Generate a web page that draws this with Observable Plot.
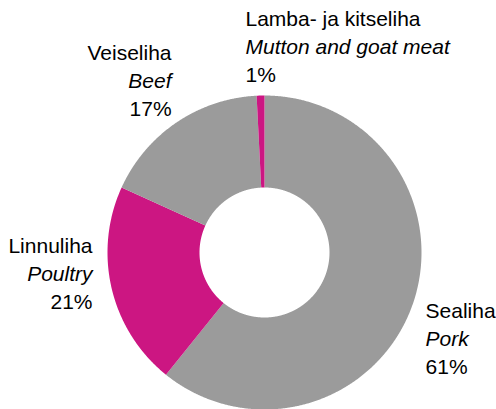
<!DOCTYPE html>
<html><head><meta charset="utf-8">
<script src="https://cdn.jsdelivr.net/npm/d3@7"></script>
<script src="https://cdn.jsdelivr.net/npm/@observablehq/plot@0.6"></script>
<style>html,body{margin:0;padding:0;background:#fff}</style>
</head><body><div id="chart"></div>
<script>
// ---- data ----
const categoriesEt = ["Sealiha", "Linnuliha", "Veiseliha", "Lamba- ja kitseliha"];
const categoriesEn = ["Pork", "Poultry", "Beef", "Mutton and goat meat"];
const shares = [60.8, 21.0, 17.4, 0.8];
const percentLabels = ["61%", "21%", "17%", "1%"];
const sliceColors = ["#9b9b9b", "#cc1682", "#9b9b9b", "#cc1682"];

// ---- layout ----
const W = 496, H = 409, cx = 264.5, cy = 252.5, R = 157, R0 = 65;
const fontSize = 21, lineGap = 28;
// label nudges (pixels) from the outer edge at the slice's mid-angle
const labelLayout = {
  "Sealiha": {dx: 12.5, dy: 33.7, anchor: "start"},
  "Linnuliha": {dx: -19.7, dy: -15.2, anchor: "end"},
  "Veiseliha": {dx: -5.2, dy: -41.6, anchor: "end"},
  "Lamba- ja kitseliha": {dx: -15.6, dy: -48.5, anchor: "start"}
};

const inner = R0 / R;
const data = categoriesEt.map((c, i) => ({et: c, en: categoriesEn[i], value: shares[i], pct: percentLabels[i], color: sliceColors[i]}));
const arcs = d3.pie().sort(null).value(d => d.value)(data);

const pts = [];
arcs.forEach(a => {
  const n = Math.max(2, Math.ceil((a.endAngle - a.startAngle) / 0.005));
  for (let k = 0; k <= n; k++) {
    const t = a.startAngle + (a.endAngle - a.startAngle) * k / n;
    pts.push({slice: a.data.et, color: a.data.color,
      x1: Math.sin(t), y1: Math.cos(t), x2: inner * Math.sin(t), y2: inner * Math.cos(t)});
  }
});

const textMarks = [];
arcs.forEach(a => {
  const mid = (a.startAngle + a.endAngle) / 2;
  const L = labelLayout[a.data.et];
  const pos = [{x: Math.sin(mid) + L.dx / R, y: Math.cos(mid) - L.dy / R}];
  const common = {x: "x", y: "y", textAnchor: L.anchor, fontSize, fill: "#000", fontFamily: "Liberation Sans, Arial, sans-serif"};
  textMarks.push(Plot.text(pos, {...common, text: () => a.data.et, dy: -lineGap}));
  textMarks.push(Plot.text(pos, {...common, text: () => a.data.en, fontStyle: "italic"}));
  textMarks.push(Plot.text(pos, {...common, text: () => a.data.pct, dy: lineGap}));
});

const chart = Plot.plot({
  width: W, height: H, margin: 0,
  x: {domain: [-cx / R, (W - cx) / R], axis: null},
  y: {domain: [-(H - cy) / R, cy / R], axis: null},
  color: {type: "identity"},
  style: {background: "#fff", fontFamily: "Liberation Sans, Arial, sans-serif"},
  marks: [
    Plot.area(pts, {x1: "x1", y1: "y1", x2: "x2", y2: "y2", z: "slice", fill: "color", curve: "linear"}),
    ...textMarks
  ]
});
document.getElementById("chart").appendChild(chart);
</script>
</body></html>
